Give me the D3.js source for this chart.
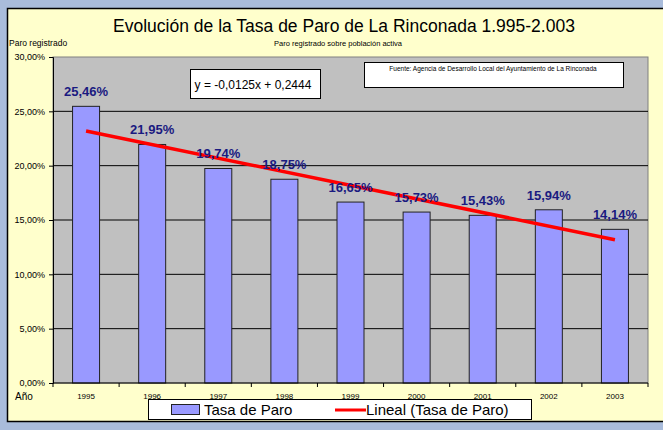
<!DOCTYPE html>
<html>
<head>
<meta charset="utf-8">
<script src="https://cdnjs.cloudflare.com/ajax/libs/d3/7.8.5/d3.min.js"></script>
<style>
  body { margin: 0; background: #a9bcdb; }
  svg { display: block; font-family: "Liberation Sans", Arial, sans-serif; }
</style>
</head>
<body>
<div id="chart"></div>
<script>
var years = ["1995", "1996", "1997", "1998", "1999", "2000", "2001", "2002", "2003"];
var tasaParo = [0.2546, 0.2195, 0.1974, 0.1875, 0.1665, 0.1573, 0.1543, 0.1594, 0.1414];
var yTicks = [0, 0.05, 0.10, 0.15, 0.20, 0.25, 0.30];
// trend line as printed on the chart: y = -0,0125x + 0,2444
var trendSlope = -0.0125;
var trendIntercept = 0.2444;

var W = 663, H = 430;
var margin = { top: 57, right: 15, bottom: 47, left: 53 };
var width = W - margin.left - margin.right;
var height = H - margin.top - margin.bottom;

var fmt = function (v) { return d3.format(".2%")(v).replace(".", ","); };

var svg = d3.select("#chart").append("svg")
  .attr("width", W)
  .attr("height", H);

svg.append("rect").attr("width", W).attr("height", H).attr("fill", "#a9bcdb");
svg.append("rect")
  .attr("x", 7.5).attr("y", 8.5)
  .attr("width", W + 10).attr("height", 413)
  .attr("fill", "#ffffcc")
  .attr("stroke", "#000")
  .attr("stroke-width", 1.5);

svg.append("text")
  .attr("x", 344).attr("y", 32)
  .attr("text-anchor", "middle")
  .style("font-size", "17.5px")
  .text("Evolución de la Tasa de Paro de La Rinconada 1.995-2.003");

svg.append("text")
  .attr("x", 338).attr("y", 46)
  .attr("text-anchor", "middle")
  .style("font-size", "7.5px")
  .text("Paro registrado sobre población activa");

svg.append("text")
  .attr("x", 9).attr("y", 46)
  .style("font-size", "8.5px")
  .text("Paro registrado");

var g = svg.append("g")
  .attr("transform", "translate(" + margin.left + "," + margin.top + ")");

var xc = d3.scalePoint().domain(years).range([0, width]).padding(0.5);
var y = d3.scaleLinear().domain([0, 0.30]).range([height, 0]);

g.append("rect")
  .attr("width", width).attr("height", height)
  .attr("fill", "#c0c0c0")
  .attr("stroke", "#808080");

g.selectAll(".grid")
  .data(yTicks.slice(1, -1))
  .enter().append("line")
  .attr("x1", 0).attr("x2", width)
  .attr("y1", function (d) { return y(d); })
  .attr("y2", function (d) { return y(d); })
  .attr("stroke", "#000");

g.selectAll(".bar")
  .data(tasaParo)
  .enter().append("rect")
  .attr("x", function (d, i) { return xc(years[i]) - 13.5; })
  .attr("width", 27)
  .attr("y", function (d) { return y(d); })
  .attr("height", function (d) { return height - y(d); })
  .attr("fill", "#9999ff")
  .attr("stroke", "#222")
  .attr("stroke-width", 1);

var line = d3.line()
  .x(function (d) { return xc(d.year); })
  .y(function (d) { return y(d.v); });

var trend = [
  { year: years[0], v: trendSlope * 1 + trendIntercept },
  { year: years[years.length - 1], v: trendSlope * years.length + trendIntercept }
];

g.append("path")
  .datum(trend)
  .attr("fill", "none")
  .attr("stroke", "#ff0000")
  .attr("stroke-width", 3.5)
  .attr("d", line);

g.selectAll(".lbl")
  .data(tasaParo)
  .enter().append("text")
  .attr("x", function (d, i) { return xc(years[i]); })
  .attr("y", function (d) { return y(d) - 10; })
  .attr("text-anchor", "middle")
  .attr("fill", "#1a1a80")
  .style("font-size", "13px")
  .style("font-weight", "bold")
  .text(fmt);

// y axis
var yAxis = g.append("g")
  .call(d3.axisLeft(y).tickValues(yTicks).tickSize(4).tickFormat(fmt));
yAxis.select(".domain").attr("stroke", "#000");
yAxis.selectAll("text").style("font-size", "9px").attr("dx", "-1");

// x axis with ticks between categories
var xAxis = g.append("g")
  .attr("transform", "translate(0," + height + ")");
xAxis.append("line")
  .attr("x1", 0).attr("x2", width)
  .attr("stroke", "#000");
xAxis.selectAll(".tk")
  .data(d3.range(years.length + 1))
  .enter().append("line")
  .attr("x1", function (i) { return i * width / years.length; })
  .attr("x2", function (i) { return i * width / years.length; })
  .attr("y1", 0).attr("y2", 4)
  .attr("stroke", "#000");
xAxis.selectAll(".xl")
  .data(years)
  .enter().append("text")
  .attr("x", function (d) { return xc(d); })
  .attr("y", 16)
  .attr("text-anchor", "middle")
  .style("font-size", "8px")
  .text(function (d) { return d; });

svg.append("text")
  .attr("x", 24).attr("y", 400)
  .attr("text-anchor", "middle")
  .style("font-size", "10px")
  .text("Año");

// equation box
svg.append("rect")
  .attr("x", 190.5).attr("y", 69.5).attr("width", 130).attr("height", 29)
  .attr("fill", "#fff").attr("stroke", "#000");
svg.append("text")
  .attr("x", 253).attr("y", 89)
  .attr("text-anchor", "middle")
  .style("font-size", "12px")
  .text("y = -0,0125x + 0,2444");

// source box
svg.append("rect")
  .attr("x", 364.5).attr("y", 62.5).attr("width", 259).attr("height", 25)
  .attr("fill", "#fff").attr("stroke", "#000");
svg.append("text")
  .attr("x", 493).attr("y", 71)
  .attr("text-anchor", "middle")
  .style("font-size", "6.5px")
  .text("Fuente: Agencia de Desarrollo Local del Ayuntamiento de La Rinconada");

// legend
var lg = svg.append("g");
lg.append("rect")
  .attr("x", 148.5).attr("y", 399.5).attr("width", 383).attr("height", 20)
  .attr("fill", "#fff").attr("stroke", "#000");
lg.append("rect")
  .attr("x", 171.5).attr("y", 404.5).attr("width", 28).attr("height", 10)
  .attr("fill", "#9999ff").attr("stroke", "#222");
lg.append("text")
  .attr("x", 204).attr("y", 415)
  .style("font-size", "15px")
  .text("Tasa de Paro");
lg.append("line")
  .attr("x1", 335).attr("x2", 366)
  .attr("y1", 410).attr("y2", 410)
  .attr("stroke", "#ff0000").attr("stroke-width", 3);
lg.append("text")
  .attr("x", 366).attr("y", 415)
  .style("font-size", "15px")
  .text("Lineal (Tasa de Paro)");
</script>
</body>
</html>
